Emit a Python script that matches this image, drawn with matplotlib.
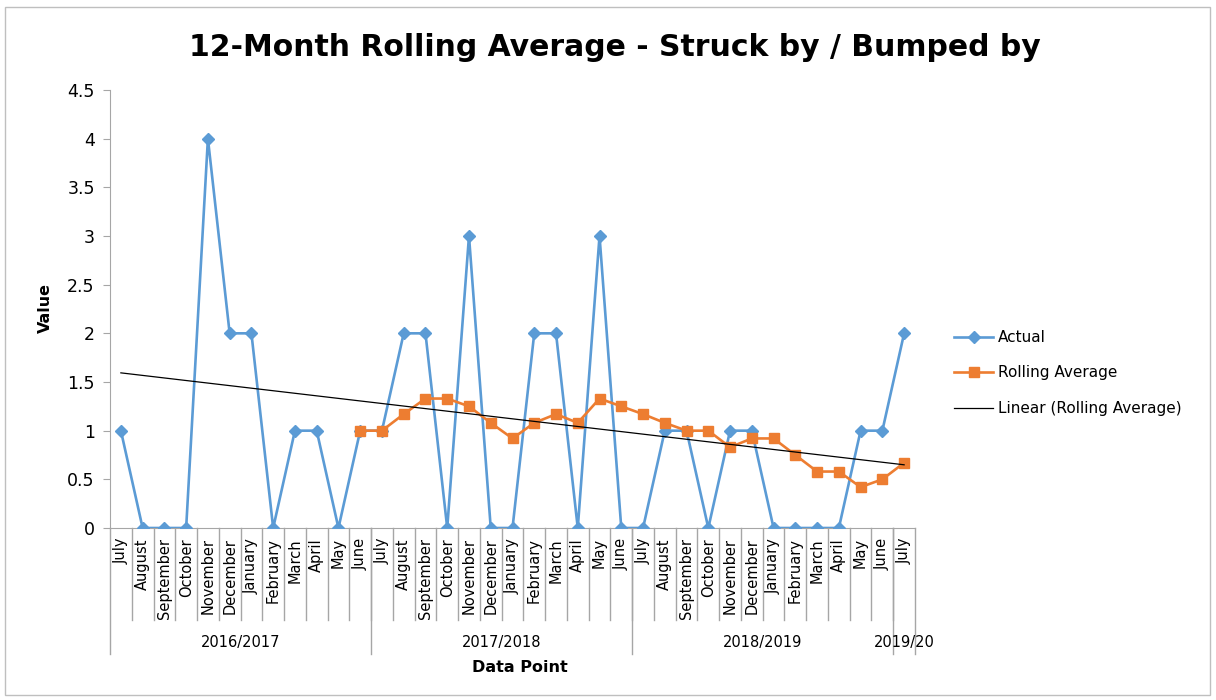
import numpy as np
import matplotlib.pyplot as plt
import matplotlib.transforms as mtransforms
from matplotlib.patches import Rectangle

months = ["July", "August", "September", "October", "November", "December",
          "January", "February", "March", "April", "May", "June"] * 3 + ["July"]
years = ["2016/2017", "2017/2018", "2018/2019", "2019/20"]
year_sizes = [12, 12, 12, 1]

actual = [1, 0, 0, 0, 4, 2, 2, 0, 1, 1, 0, 1,
          1, 2, 2, 0, 3, 0, 0, 2, 2, 0, 3, 0,
          0, 1, 1, 0, 1, 1, 0, 0, 0, 0, 1, 1,
          2]
rolling = [np.nan] * 11 + [1.0,
           1.0, 1.17, 1.33, 1.33, 1.25, 1.08, 0.92, 1.08, 1.17, 1.08, 1.33, 1.25,
           1.17, 1.08, 1.0, 1.0, 0.83, 0.92, 0.92, 0.75, 0.58, 0.58, 0.42, 0.5,
           0.67]

blue = "#5B9BD5"
orange = "#ED7D31"
grey = "#A6A6A6"

W, H = 1216, 700
fig = plt.figure(figsize=(W / 100, H / 100), dpi=100)
fig.patches.append(Rectangle((5 / W, 5 / H), 1205 / W, 688 / H, transform=fig.transFigure,
                             fill=False, edgecolor="#BFBFBF", lw=1))

x0, x1, ytop, ybot = 110, 915, 90, 528
ax = fig.add_axes([x0 / W, 1 - ybot / H, (x1 - x0) / W, (ybot - ytop) / H])

x = np.arange(len(actual))
r = np.array(rolling)
ax.plot(x, actual, color=blue, lw=1.9, marker="D", ms=6, label="Actual", zorder=3)
ax.plot(x, r, color=orange, lw=1.9, marker="s", ms=6.5, label="Rolling Average", zorder=4)

# linear trendline of the rolling average, drawn across the whole axis
ok = ~np.isnan(r)
k, c = np.polyfit(x[ok], r[ok], 1)
ax.plot(x, k * x + c, color="black", lw=0.9, label="Linear (Rolling Average)", zorder=5)

ax.set_xlim(-0.5, len(actual) - 0.5)
ax.set_ylim(0, 4.5)
ax.set_yticks(np.arange(0, 4.51, 0.5))
ax.set_yticklabels(["0", "0.5", "1", "1.5", "2", "2.5", "3", "3.5", "4", "4.5"], fontsize=12.5)
ax.tick_params(axis="y", length=5, color=grey, pad=6)
ax.set_xticks([])
for s in ["top", "right"]:
    ax.spines[s].set_visible(False)
ax.spines["left"].set_color(grey)
ax.spines["bottom"].set_color(grey)

# multi-level category axis
tr = mtransforms.blended_transform_factory(ax.transData, ax.transAxes)
px = 1 / (ybot - ytop)
month_bottom = -(620 - ybot) * px
year_bottom = -(654 - ybot) * px
for i, m in enumerate(months):
    ax.text(i, -10 * px, m, transform=tr, rotation=90,
            ha="center", va="top", fontsize=10.5)
    if i > 0:
        ax.plot([i - 0.5, i - 0.5], [0, month_bottom], transform=tr, color=grey, lw=1, clip_on=False)
start = 0
for name, n in zip(years, year_sizes):
    ax.plot([start - 0.5, start - 0.5], [0, year_bottom], transform=tr, color=grey, lw=1, clip_on=False)
    ax.text(start + n / 2 - 0.5, -(643 - ybot) * px, name, transform=tr,
            ha="center", va="center", fontsize=10.5)
    start += n
ax.plot([start - 0.5, start - 0.5], [0, year_bottom], transform=tr, color=grey, lw=1, clip_on=False)

fig.text(520 / W, 1 - 668 / H, "Data Point", ha="center", va="center", fontsize=11.5, fontweight="bold")
fig.text(45 / W, 1 - 308 / H, "Value", ha="center", va="center", rotation=90, fontsize=11.5, fontweight="bold")
fig.text(615 / W, 1 - 47 / H, "12-Month Rolling Average - Struck by / Bumped by",
         ha="center", va="center", fontsize=21.5, fontweight="bold")

fig.legend(loc="center left", bbox_to_anchor=(940 / W, 1 - 373 / H), frameon=False,
           fontsize=11, handlelength=2.6, handletextpad=0.3, labelspacing=1.35)

fig.savefig("out.png", dpi=100)
